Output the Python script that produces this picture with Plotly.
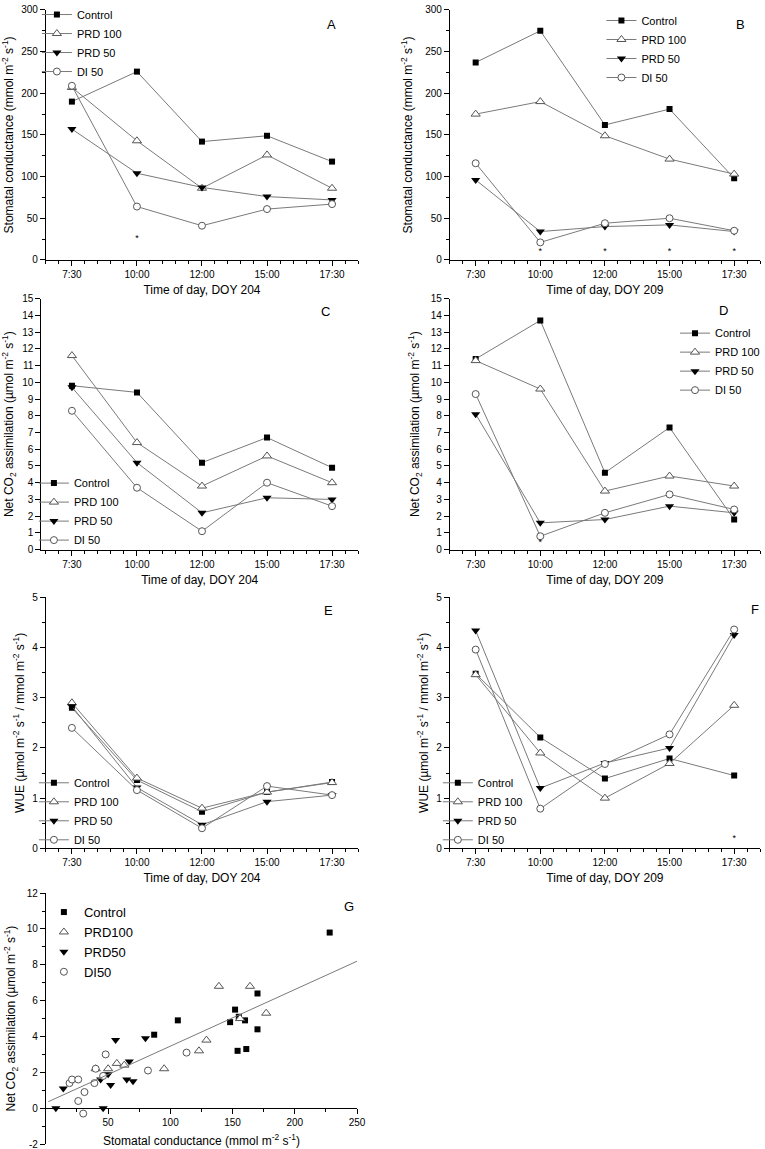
import plotly.graph_objects as go

# ---------------- data ----------------
times = ["7:30", "10:00", "12:00", "15:00", "17:30"]
treatments = ["Control", "PRD 100", "PRD 50", "DI 50"]

# A: stomatal conductance, DOY 204
gs204_control = [190, 226, 142, 149, 118]
gs204_prd100 = [207, 143, 86, 126, 86]
gs204_prd50 = [157, 104, 87, 76, 72]
gs204_di50 = [209, 64, 41, 61, 67]
gs204_sig_times = ["10:00"]
gs204_sig_y = [25]

# B: stomatal conductance, DOY 209
gs209_control = [237, 275, 162, 181, 98]
gs209_prd100 = [175, 190, 149, 121, 103]
gs209_prd50 = [96, 34, 40, 42, 34]
gs209_di50 = [116, 21, 44, 50, 35]
gs209_sig_times = ["10:00", "12:00", "15:00", "17:30"]
gs209_sig_y = [10, 10, 10, 10]

# C: net CO2 assimilation, DOY 204
an204_control = [9.8, 9.4, 5.2, 6.7, 4.9]
an204_prd100 = [11.6, 6.4, 3.8, 5.6, 4.0]
an204_prd50 = [9.7, 5.2, 2.2, 3.1, 3.0]
an204_di50 = [8.3, 3.7, 1.1, 4.0, 2.6]

# D: net CO2 assimilation, DOY 209
an209_control = [11.4, 13.7, 4.6, 7.3, 1.8]
an209_prd100 = [11.3, 9.6, 3.5, 4.4, 3.8]
an209_prd50 = [8.1, 1.6, 1.8, 2.6, 2.2]
an209_di50 = [9.3, 0.8, 2.2, 3.3, 2.4]
an209_sig_times = ["10:00"]
an209_sig_y = [0.4]

# E: WUE, DOY 204
wue204_control = [2.80, 1.36, 0.73, 1.12, 1.32]
wue204_prd100 = [2.90, 1.40, 0.80, 1.12, 1.31]
wue204_prd50 = [2.83, 1.21, 0.47, 0.93, 1.06]
wue204_di50 = [2.40, 1.16, 0.40, 1.24, 1.06]

# F: WUE, DOY 209
wue209_control = [3.48, 2.21, 1.39, 1.79, 1.45]
wue209_prd100 = [3.46, 1.90, 1.00, 1.69, 2.85]
wue209_prd50 = [4.34, 1.20, 1.70, 2.00, 4.25]
wue209_di50 = [3.96, 0.79, 1.68, 2.27, 4.36]
wue209_sig_times = ["17:30"]
wue209_sig_y = [0.2]

# G: assimilation vs stomatal conductance
g_names = ["Control", "PRD100", "PRD50", "DI50"]
g_control_x = [228, 170, 152, 155, 148, 160, 170, 154, 161, 106, 87]
g_control_y = [9.8, 6.4, 5.5, 5.1, 4.8, 4.9, 4.4, 3.2, 3.3, 4.9, 4.1]
g_prd100_x = [139, 164, 177, 156, 129, 123, 95, 40, 50, 57, 63]
g_prd100_y = [6.8, 6.8, 5.3, 5.0, 3.8, 3.2, 2.2, 2.2, 2.2, 2.5, 2.4]
g_prd50_x = [8, 14, 44, 50, 52, 46, 56, 80, 67, 65, 70]
g_prd50_y = [0.0, 1.1, 1.6, 1.9, 1.3, 0.0, 3.8, 3.9, 2.6, 1.6, 1.5]
g_di50_x = [19, 21, 26, 26, 31, 30, 39, 40, 46, 48, 82, 113]
g_di50_y = [1.4, 1.6, 1.6, 0.4, 0.9, -0.3, 1.4, 2.2, 1.8, 3.0, 2.1, 3.1]
fit_intercept = 0.30
fit_slope = 0.0316
fit_x = [2, 250]

# ---------------- styling ----------------
W, H = 765, 1149
FONT = "Liberation Sans, Arial, sans-serif"
LINE_C = "#7a7a7a"
OPEN_C = "#555555"

marker_styles = [
    dict(symbol="square", size=6, color="black", line=dict(width=0)),
    dict(symbol="triangle-up", size=8, color="white", line=dict(color=OPEN_C, width=1)),
    dict(symbol="triangle-down", size=8, color="black", line=dict(width=0)),
    dict(symbol="circle", size=7, color="white", line=dict(color=OPEN_C, width=1)),
]


def xd(a, b):
    return [a / W, b / W]


def yd(top, bottom):
    return [1 - bottom / H, 1 - top / H]


idx = list(range(len(times)))

gs_title = "Stomatal conductance (mmol m<sup>-2</sup> s<sup>-1</sup>)"
an_title = "Net CO<sub>2</sub> assimilation (µmol m<sup>-2</sup> s<sup>-1</sup>)"
wue_title = "WUE (µmol m<sup>-2</sup> s<sup>-1</sup> / mmol m<sup>-2</sup> s<sup>-1</sup>)"

panels = [
    dict(letter="A", n="", series=[gs204_control, gs204_prd100, gs204_prd50, gs204_di50],
         sig=(gs204_sig_times, gs204_sig_y), xdom=(46, 359), ydom=(5, 256), xr=[-0.4, 4.4],
         yr=[0, 300], dtick=50, minor=25, ytitle=gs_title, ystand=9, xtitle="Time of day, DOY 204",
         leg=dict(x=37, y=-5, ya="top"), lab=(332, 20)),
    dict(letter="B", n="2", series=[gs209_control, gs209_prd100, gs209_prd50, gs209_di50],
         sig=(gs209_sig_times, gs209_sig_y), xdom=(451, 762), ydom=(5, 256), xr=[-0.4, 4.4],
         yr=[0, 300], dtick=50, minor=25, ytitle=gs_title, ystand=9, xtitle="Time of day, DOY 209",
         leg=dict(x=603, y=1, ya="top"), lab=(742, 20)),
    dict(letter="C", n="3", series=[an204_control, an204_prd100, an204_prd50, an204_di50],
         sig=None, xdom=(41.5, 359), ydom=(295, 547), xr=[-0.47, 4.4],
         yr=[0, 15], dtick=1, minor=None, ytitle=an_title, ystand=8, xtitle="Time of day, DOY 204",
         leg=dict(x=34, y=552, ya="bottom"), lab=(326, 308)),
    dict(letter="D", n="4", series=[an209_control, an209_prd100, an209_prd50, an209_di50],
         sig=(an209_sig_times, an209_sig_y), xdom=(451, 762), ydom=(295, 547),
         xr=[-0.4, 4.4], yr=[0, 15], dtick=1, minor=None, ytitle=an_title, ystand=8,
         xtitle="Time of day, DOY 209", leg=dict(x=677, y=315, ya="top"), lab=(725, 307)),
    dict(letter="E", n="5", series=[wue204_control, wue204_prd100, wue204_prd50, wue204_di50],
         sig=None, xdom=(46, 359), ydom=(595, 847), xr=[-0.4, 4.4],
         yr=[0, 5], dtick=1, minor=0.5, ytitle=wue_title, ystand=5, xtitle="Time of day, DOY 204",
         leg=dict(x=34, y=853, ya="bottom"), lab=(329, 608)),
    dict(letter="F", n="6", series=[wue209_control, wue209_prd100, wue209_prd50, wue209_di50],
         sig=(wue209_sig_times, wue209_sig_y), xdom=(451, 762), ydom=(595, 847), xr=[-0.4, 4.4],
         yr=[0, 5], dtick=1, minor=0.5, ytitle=wue_title, ystand=5, xtitle="Time of day, DOY 209",
         leg=dict(x=439, y=853, ya="bottom"), lab=(757, 607)),
]

fig = go.Figure()
layout = dict(
    width=W, height=H, margin=dict(l=0, r=0, t=0, b=0),
    paper_bgcolor="white", plot_bgcolor="white",
    font=dict(family=FONT, size=10, color="black"),
    annotations=[],
)

axis_common = dict(
    showline=True, linecolor="black", linewidth=1, ticks="outside", ticklen=5,
    tickcolor="black", tickwidth=1, showgrid=False, zeroline=False, automargin=False,
    ticklabeloverflow="allow",
    tickfont=dict(size=10, family=FONT, color="black"),
)

for p in panels:
    n = p["n"]
    legname = "legend" + n
    xref = "x" + n
    yref = "y" + n
    for i, (name, vals) in enumerate(zip(treatments, p["series"])):
        fig.add_trace(go.Scatter(
            x=idx, y=vals, mode="lines+markers", name=name,
            line=dict(color=LINE_C, width=1), marker=marker_styles[i],
            xaxis=xref, yaxis=yref, legend=legname, showlegend=True,
        ))
    if p["sig"] is not None:
        st, sy = p["sig"]
        fig.add_trace(go.Scatter(
            x=[times.index(t) for t in st], y=sy, mode="text", text=["*"] * len(st),
            textfont=dict(size=9, color="black"), xaxis=xref, yaxis=yref,
            showlegend=False, hoverinfo="skip",
        ))
    layout["xaxis" + n] = dict(
        axis_common, domain=xd(*p["xdom"]), range=p["xr"], anchor=yref,
        tickmode="array", tickvals=idx, ticktext=times,
        minor=dict(ticks="outside", ticklen=3, tickmode="linear", tick0=0, dtick=0.2,
                   tickcolor="black", showgrid=False),
        title=dict(text=p["xtitle"], font=dict(size=12, family=FONT), standoff=6),
    )
    ya = dict(
        axis_common, domain=yd(*p["ydom"]), range=p["yr"], anchor=xref,
        tickmode="linear", tick0=0, dtick=p["dtick"],
        title=dict(text=p["ytitle"], font=dict(size=12, family=FONT), standoff=p["ystand"]),
    )
    if p["minor"]:
        ya["minor"] = dict(ticks="outside", ticklen=3, tickmode="linear", tick0=0,
                           dtick=p["minor"], tickcolor="black", showgrid=False)
    layout["yaxis" + n] = ya
    lg = p["leg"]
    layout[legname] = dict(
        x=lg["x"] / W, y=1 - lg["y"] / H, xanchor="left", yanchor=lg["ya"],
        xref="paper", yref="paper", bgcolor="rgba(0,0,0,0)", borderwidth=0,
        font=dict(size=11, family=FONT, color="black"), tracegroupgap=0, itemwidth=30,
        traceorder="normal",
    )
    layout["annotations"].append(dict(
        x=p["lab"][0] / W, y=1 - p["lab"][1] / H, xref="paper", yref="paper",
        text=p["letter"], showarrow=False, font=dict(size=13, family=FONT),
        xanchor="center", yanchor="middle",
    ))

# ---- panel G ----
g_sets = [(g_control_x, g_control_y), (g_prd100_x, g_prd100_y),
          (g_prd50_x, g_prd50_y), (g_di50_x, g_di50_y)]
for i, (name, (gx, gy)) in enumerate(zip(g_names, g_sets)):
    fig.add_trace(go.Scatter(
        x=gx, y=gy, mode="markers", name=name, marker=marker_styles[i],
        xaxis="x7", yaxis="y7", legend="legend7",
    ))
fig.add_trace(go.Scatter(
    x=fit_x, y=[fit_intercept + fit_slope * v for v in fit_x], mode="lines",
    line=dict(color=LINE_C, width=1), xaxis="x7", yaxis="y7", showlegend=False,
    hoverinfo="skip",
))

g_xdom = (46, 358)
g_ydom = (892, 1144)
g_yr = [-2, 12]
gyd = yd(*g_ydom)
zero_pos = gyd[0] + (0 - g_yr[0]) / (g_yr[1] - g_yr[0]) * (gyd[1] - gyd[0])
g_xticks = [50, 100, 150, 200, 250]
g_yticks = [-2, 0, 2, 4, 6, 8, 10, 12]
layout["xaxis7"] = dict(
    axis_common, domain=xd(*g_xdom), range=[0, 250], anchor="free", position=zero_pos,
    tickmode="array", tickvals=g_xticks, ticktext=[str(v) for v in g_xticks],
    minor=dict(ticks="outside", ticklen=3, tickmode="linear", tick0=0, dtick=25,
               tickcolor="black", showgrid=False),
    title=dict(text="Stomatal conductance (mmol m<sup>-2</sup> s<sup>-1</sup>)",
               font=dict(size=12, family=FONT), standoff=9),
)
layout["yaxis7"] = dict(
    axis_common, domain=gyd, range=g_yr, anchor="x7",
    tickmode="array", tickvals=g_yticks, ticktext=[str(v) for v in g_yticks],
    minor=dict(ticks="outside", ticklen=3, tickmode="linear", tick0=0, dtick=1,
               tickcolor="black", showgrid=False),
    title=dict(text=an_title, font=dict(size=12, family=FONT), standoff=8),
)
layout["legend7"] = dict(
    x=44 / W, y=1 - 896 / H, xanchor="left", yanchor="top", xref="paper", yref="paper",
    bgcolor="rgba(0,0,0,0)", borderwidth=0, font=dict(size=13, family=FONT, color="black"),
    tracegroupgap=0, itemwidth=30, traceorder="normal",
)
layout["annotations"].append(dict(
    x=350 / W, y=1 - 905 / H, xref="paper", yref="paper", text="G", showarrow=False,
    font=dict(size=13, family=FONT), xanchor="center", yanchor="middle",
))

fig.update_layout(**layout)
fig.write_html(
    "out.html",
    config={"displayModeBar": False},
    post_script="document.body.style.margin='0';document.body.style.overflow='hidden';",
)
